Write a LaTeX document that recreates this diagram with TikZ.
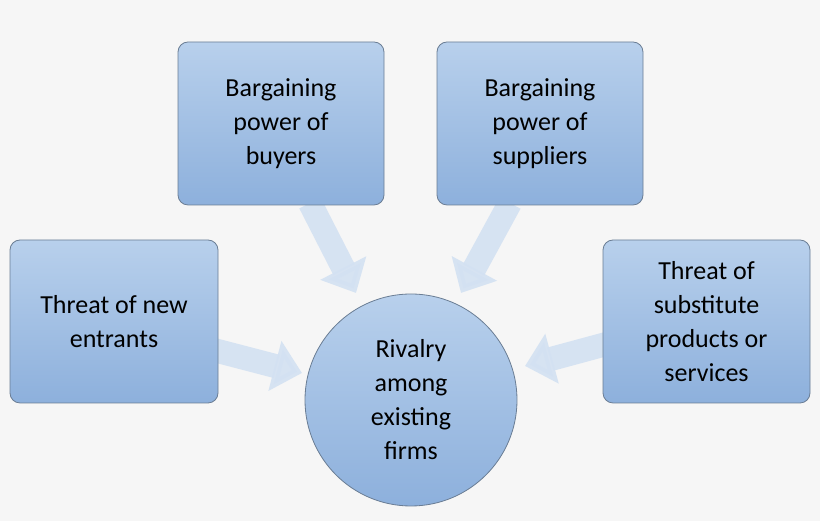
\documentclass[tikz,border=0pt]{standalone}
\usepackage{fontspec}
\setmainfont{Carlito}
\usetikzlibrary{arrows.meta,positioning}
\definecolor{boxtop}{HTML}{B8D0EC}
\definecolor{boxbot}{HTML}{8DB0DC}
\definecolor{boxline}{HTML}{6A7D94}
\definecolor{pale}{HTML}{D3E1F2}
\definecolor{bg}{HTML}{F6F6F6}
\tikzset{
  force/.style={draw=boxline, line width=0.8pt, rounded corners=10pt,
    top color=boxtop, bottom color=boxbot, align=center,
    minimum width=206pt, minimum height=163pt, inner sep=0pt,
    font=\fontsize{26}{34}\selectfont},
  rival/.style={circle, draw=boxline, line width=0.8pt,
    top color=boxtop, bottom color=boxbot, align=center,
    minimum size=212pt, inner sep=0pt, font=\fontsize{26}{34}\selectfont},
  push/.style={draw=pale, line width=24pt, opacity=0.9,
    -{Triangle[width=50pt,length=28pt]}}
}
\begin{document}
\begin{tikzpicture}[x=1pt,y=1pt]
  \fill[bg] (0,0) rectangle (820,521);
  \useasboundingbox (0,0) rectangle (820,521);
  % arrow ends
  \coordinate (b0) at (310,318); \coordinate (b1) at (356,228);
  \coordinate (s0) at (510,318); \coordinate (s1) at (461,228);
  \coordinate (e0) at (210,172); \coordinate (e1) at (302,148);
  \coordinate (t0) at (610,178); \coordinate (t1) at (525,155);
  % pressure arrows
  \draw[push] (b0) -- (b1);
  \draw[push] (s0) -- (s1);
  \draw[push] (e0) -- (e1);
  \draw[push] (t0) -- (t1);
  % the five forces
  \node[force] (buyers) at (281,397.5) {Bargaining\\power of\\buyers};
  \node[force] (suppliers) at (540,397.5) {Bargaining\\power of\\suppliers};
  \node[force, minimum width=208pt] (entrants) at (114,199.5) {Threat of new\\entrants};
  \node[force, minimum width=207pt] (subst) at (706.5,199.5) {Threat of\\substitute\\products or\\services};
  \node[rival] (rivalry) at (411,121) {Rivalry\\among\\existing\\firms};
\end{tikzpicture}
\end{document}
